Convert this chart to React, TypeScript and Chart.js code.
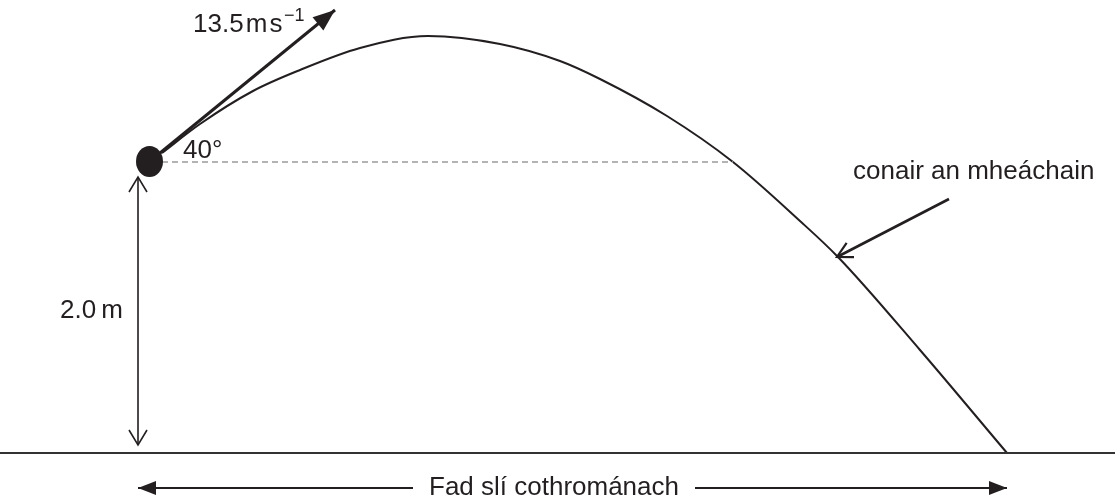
import React, { useEffect, useRef } from "react";
import { Chart, registerables } from "chart.js";

Chart.register(...registerables);

// Diagram coordinates: x to the right, y upwards (ground at y = 50)
const groundX = [0, 1115];
const groundY = [50, 50];

const trajX = [162, 200, 253, 300, 360, 428, 500, 560, 600, 667, 733, 800, 838, 920, 1007];
const trajY = [350, 379, 412, 433, 455, 467, 459, 442, 424, 387, 341, 282, 246, 153, 50];

const dashX = [162, 733];
const dashY = [341, 341];

const heightArrowX = [138, 138];
const heightArrowY = [326, 58];

const velocityX = [160, 335];
const velocityY = [350, 493];

const pointerX = [949, 837];
const pointerY = [304, 246];

const rangeLeftX = [413, 138];
const rangeLeftY = [15, 15];
const rangeRightX = [695, 1007];
const rangeRightY = [15, 15];

const ballX = [149.5];
const ballY = [341.5];

const labelTexts = ["13.5\u200Am\u200As", "\u22121", "40°", "2.0\u2009m", "conair an mheáchain", "Fad slí cothrománach"];
const labelX = [193, 284, 183, 123, 853, 554];
const labelY = [471, 482, 345, 185, 324, 8];

const INK = "#231f20";
const FONT = "'Liberation Sans', Arial, Helvetica, sans-serif";

const pts = (xs: number[], ys: number[]) => xs.map((x, i) => ({ x, y: ys[i] }));

const decorPlugin = {
  id: "decor",
  afterDatasetsDraw(chart: any) {
    const ctx = chart.ctx;
    const xs = chart.scales.x;
    const ys = chart.scales.y;
    chart.data.datasets.forEach((ds: any, i: number) => {
      const meta = chart.getDatasetMeta(i);
      const p = meta.data;
      if (ds.ellipse) {
        ctx.save();
        ctx.fillStyle = INK;
        ctx.beginPath();
        ctx.ellipse(p[0].x, p[0].y, ds.ellipse.rx, ds.ellipse.ry, 0, 0, Math.PI * 2);
        ctx.fill();
        ctx.restore();
      }
      const heads: any[] = [];
      if (ds.arrowEnd) heads.push({ tip: p[p.length - 1], from: p[p.length - 2], cfg: ds.arrowEnd });
      if (ds.arrowStart) heads.push({ tip: p[0], from: p[1], cfg: ds.arrowStart });
      heads.forEach(({ tip, from, cfg }) => {
        const ang = Math.atan2(tip.y - from.y, tip.x - from.x);
        const bx = tip.x - Math.cos(ang) * cfg.len;
        const by = tip.y - Math.sin(ang) * cfg.len;
        const nx = -Math.sin(ang) * cfg.half;
        const ny = Math.cos(ang) * cfg.half;
        ctx.save();
        ctx.strokeStyle = INK;
        ctx.fillStyle = INK;
        ctx.lineWidth = cfg.lw || 1.6;
        ctx.lineJoin = "miter";
        ctx.beginPath();
        if (cfg.type === "filled") {
          ctx.moveTo(tip.x, tip.y);
          ctx.lineTo(bx + nx, by + ny);
          ctx.lineTo(bx - nx, by - ny);
          ctx.closePath();
          ctx.fill();
        } else {
          ctx.moveTo(bx + nx, by + ny);
          ctx.lineTo(tip.x, tip.y);
          ctx.lineTo(bx - nx, by - ny);
          ctx.stroke();
        }
        ctx.restore();
      });
    });
    ctx.save();
    ctx.fillStyle = INK;
    ctx.textBaseline = "alphabetic";
    labelTexts.forEach((t, i) => {
      const px = xs.getPixelForValue(labelX[i]);
      const py = ys.getPixelForValue(labelY[i]);
      ctx.font = i === 1 ? `18px ${FONT}` : `26px ${FONT}`;
      ctx.textAlign = i === 3 ? "right" : i === 5 ? "center" : "left";
      ctx.fillText(t, px, py);
    });
    ctx.restore();
  },
};

const lineDs = (data: any[], extra: any) => ({
  type: "line",
  data,
  borderColor: INK,
  borderWidth: 2,
  pointRadius: 0,
  fill: false,
  tension: 0,
  ...extra,
});

export default function App() {
  const ref = useRef<HTMLCanvasElement | null>(null);
  useEffect(() => {
    document.body.style.margin = "0";
    const canvas = ref.current!;
    const chart = new Chart(canvas, {
      type: "line",
      data: {
        datasets: [
          lineDs(pts(groundX, groundY), { borderColor: "#333333", borderWidth: 2.2 }),
          lineDs(pts(dashX, dashY), { borderColor: "#9a9a9a", borderWidth: 1.6, borderDash: [6, 4] }),
          lineDs(pts(trajX, trajY), { borderWidth: 2, cubicInterpolationMode: "monotone" }),
          lineDs(pts(heightArrowX, heightArrowY), {
            borderWidth: 1.6,
            arrowEnd: { type: "open", len: 15, half: 9, lw: 1.6 },
            arrowStart: { type: "open", len: 15, half: 9, lw: 1.6 },
          }),
          lineDs(pts(velocityX, velocityY), {
            borderWidth: 3,
            arrowEnd: { type: "filled", len: 22, half: 8.5 },
          }),
          lineDs(pts(pointerX, pointerY), {
            borderWidth: 2.6,
            arrowEnd: { type: "open", len: 15, half: 8, lw: 2.2 },
          }),
          lineDs(pts(rangeLeftX, rangeLeftY), {
            borderWidth: 2,
            arrowEnd: { type: "filled", len: 18, half: 7 },
          }),
          lineDs(pts(rangeRightX, rangeRightY), {
            borderWidth: 2,
            arrowEnd: { type: "filled", len: 18, half: 7 },
          }),
          {
            type: "scatter",
            data: pts(ballX, ballY),
            pointRadius: 0,
            showLine: false,
            ellipse: { rx: 13.5, ry: 15.5 },
          } as any,
        ] as any,
      },
      options: {
        animation: false,
        responsive: false,
        devicePixelRatio: 1,
        layout: { padding: 0 },
        plugins: { legend: { display: false }, tooltip: { enabled: false } },
        events: [],
        scales: {
          x: { type: "linear", min: 0, max: 1115, display: false },
          y: { type: "linear", min: 0, max: 503, display: false },
        },
      },
      plugins: [decorPlugin as any],
    });
    return () => chart.destroy();
  }, []);
  return (
    <div style={{ width: 1115, height: 503, background: "#fff" }}>
      <canvas ref={ref} width={1115} height={503} />
    </div>
  );
}
